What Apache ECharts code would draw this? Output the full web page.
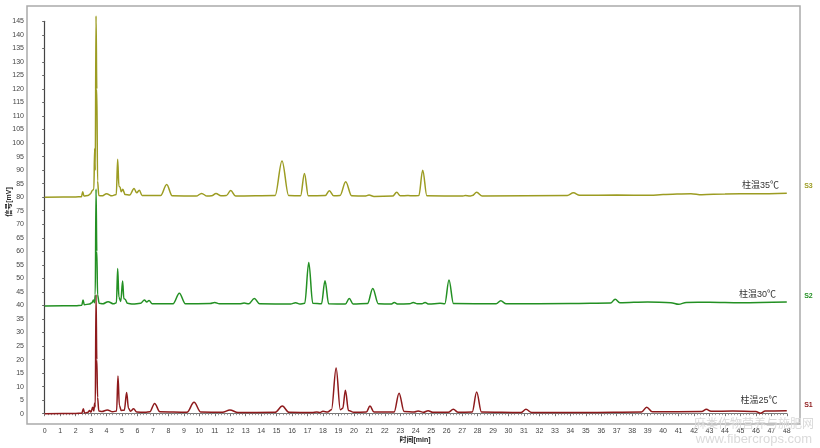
<!DOCTYPE html>
<html>
<head>
<meta charset="utf-8">
<script src="https://cdn.jsdelivr.net/npm/echarts@6/dist/echarts.min.js"></script>
<style>html,body{margin:0;padding:0;background:#fff}#c{width:820px;height:448px}</style>
</head>
<body>
<div id="c"></div>
<script>
// x tick labels (min) and y tick labels (mV)
const xTicks = [0, 48, 1];
const yTicks = [0, 145, 5];
const seriesNames = ['S1', 'S2', 'S3'];
const tempLabels = ['柱温25℃', '柱温30℃', '柱温35℃'];

// [time(min), signal(mV)]
const s1Points = [[0,0],[2.0,0.1],[2.4,0.2],[2.5,1.8],[2.58,0.3],[2.8,0.5],[2.9,1.2],[3.0,0.6],[3.1,2.4],[3.18,1.0],[3.23,4.0],[3.27,2.5],[3.32,44],[3.37,20],[3.42,6],[3.5,1.0],[3.7,0.8],[4.05,1.4],[4.4,0.7],[4.65,1.0],[4.74,13.9],[4.83,3.0],[4.95,1.2],[5.15,1.3],[5.3,7.8],[5.42,2.0],[5.55,0.9],[5.75,1.8],[5.95,0.6],[6.5,0.5],[6.8,0.7],[7.11,3.8],[7.45,0.7],[9.2,0.5],[9.66,4.2],[10.1,0.6],[11.5,0.5],[11.98,1.4],[12.5,0.4],[14.9,0.5],[15.37,2.8],[15.8,0.5],[17.3,0.4],[17.6,0.6],[17.8,0.4],[18.0,0.9],[18.3,0.6],[18.55,1.5],[18.85,16.9],[19.12,1.5],[19.28,2.0],[19.45,8.7],[19.65,1.2],[20.0,0.5],[20.8,0.6],[21.04,2.8],[21.3,0.6],[22.6,0.6],[22.92,7.6],[23.25,0.8],[23.9,0.6],[24.15,1.0],[24.5,0.5],[24.8,1.1],[25.1,0.5],[26.1,0.5],[26.43,1.6],[26.75,0.5],[27.65,0.6],[27.94,8.0],[28.25,0.6],[30.8,0.4],[31.13,1.6],[31.5,0.4],[35,0.4],[38.6,0.6],[38.94,2.4],[39.3,0.7],[42.5,0.8],[42.8,1.6],[43.1,0.9],[44.5,1.0],[46.0,0.8],[46.3,0.2],[46.6,1.0],[48,1.1]];

const s2Points = [[0,39.8],[2.0,39.9],[2.4,40.1],[2.48,42],[2.56,40.3],[2.9,40.5],[3.05,41.0],[3.15,42.0],[3.22,41],[3.27,44],[3.32,83],[3.37,60],[3.42,44],[3.52,40.8],[3.75,40.6],[4.1,41.4],[4.45,40.6],[4.64,41],[4.72,53.7],[4.8,43],[4.92,41.5],[5.04,49.0],[5.12,42.5],[5.2,42.3],[5.35,40.8],[5.7,40.5],[6.2,40.8],[6.45,42.0],[6.6,41.3],[6.75,41.8],[6.95,40.6],[8.3,40.6],[8.71,44.5],[9.1,40.6],[10.7,40.7],[11.0,41.1],[11.3,40.6],[12.6,40.6],[12.9,40.9],[13.2,40.6],[13.56,42.6],[13.9,40.6],[15.9,40.5],[16.23,41.0],[16.5,40.5],[16.82,40.8],[17.08,55.9],[17.34,40.8],[17.9,40.6],[18.13,49.1],[18.37,40.6],[19.45,40.5],[19.7,42.6],[19.95,40.5],[20.88,40.7],[21.22,46.3],[21.58,40.6],[22.4,40.5],[22.61,41.1],[22.85,40.5],[23.6,40.6],[23.84,41.1],[24.1,40.6],[24.4,40.6],[24.6,41.1],[24.85,40.5],[25.57,40.8],[25.88,40.6],[26.15,49.4],[26.44,40.7],[29.2,40.6],[29.5,41.7],[29.85,40.6],[34,40.7],[36.6,40.9],[36.9,42.3],[37.2,41.0],[39,41.3],[40.5,41.0],[41,40.4],[41.5,41.1],[43,41.2],[45,41.0],[48,41.3]];

const s3Points = [[0,80],[2.0,80.1],[2.38,80.2],[2.46,82],[2.54,80.4],[2.8,80.6],[2.95,81.2],[3.1,82.6],[3.18,83],[3.23,98],[3.27,90],[3.32,147],[3.37,120],[3.42,86],[3.5,80.6],[3.7,80.5],[4.0,81.3],[4.35,80.5],[4.63,81],[4.72,94],[4.8,84],[4.87,83.8],[4.95,82.0],[5.05,82.9],[5.2,81],[5.5,80.8],[5.78,83.2],[5.95,81.6],[6.12,82.6],[6.3,80.6],[7.5,80.6],[7.89,84.7],[8.25,80.5],[9.8,80.4],[10.15,81.4],[10.5,80.4],[10.8,80.5],[11.08,81.4],[11.4,80.5],[11.75,80.6],[12.03,82.5],[12.35,80.4],[14.9,80.6],[15.35,93.4],[15.78,80.6],[16.55,80.5],[16.8,88.8],[17.05,80.5],[18.15,80.6],[18.41,82.4],[18.7,80.5],[19.1,80.6],[19.47,85.7],[19.85,80.5],[20.7,80.4],[20.98,80.8],[21.3,80.3],[22.5,80.4],[22.77,81.8],[23.0,80.5],[23.5,80.6],[23.8,80.5],[24.2,80.6],[24.45,90],[24.72,80.5],[27.0,80.4],[27.2,80.6],[27.5,80.4],[27.65,80.6],[27.94,81.8],[28.3,80.4],[33.8,80.6],[34.2,81.6],[34.6,80.7],[37,80.8],[39.2,80.7],[40,81],[41.8,81.3],[42.5,80.9],[44,81.2],[46,81.3],[48,81.5]];

const colors = ['#8e1a1c', '#239023', '#9c9c22'];
const allPoints = [s1Points, s2Points, s3Points];
// anchor positions (data units) for the side annotations
const tempAnchor = [[46.2, 4.7], [46.1, 43.9], [46.3, 84.4]];
const nameAnchor = [[49.4, 3.2], [49.4, 43.3], [49.4, 84.2]];

const chart = echarts.init(document.getElementById('c'), null, {renderer: 'canvas'});
const font = '"Liberation Sans", "Noto Sans CJK SC", sans-serif';
const option = {
  animation: false,
  backgroundColor: '#fff',
  grid: {left: 44.7, right: 33.2, top: 21.3, bottom: 34.3, containLabel: false},
  xAxis: {
    type: 'value', min: xTicks[0], max: xTicks[1], interval: xTicks[2], offset: 10,
    axisLine: {show: true, lineStyle: {color: '#777', width: 1.2}},
    axisTick: {show: true, length: 2.5, lineStyle: {color: '#777'}},
    minorTick: {show: true, splitNumber: 5, length: 1.5, lineStyle: {color: '#999'}},
    splitLine: {show: false},
    axisLabel: {fontSize: 7, color: '#444', margin: 4, fontFamily: font}
  },
  yAxis: {
    type: 'value', min: yTicks[0], max: yTicks[1], interval: yTicks[2], offset: 17.7,
    axisLine: {show: true, lineStyle: {color: '#444', width: 1.2}},
    axisTick: {show: true, length: 2.5, lineStyle: {color: '#666'}},
    splitLine: {show: false},
    axisLabel: {fontSize: 7, color: '#444', margin: 3, fontFamily: font}
  },
  series: allPoints.map((pts, i) => ({
    type: 'line', name: seriesNames[i], data: pts, showSymbol: false, symbol: 'none',
    smooth: 0.35, smoothMonotone: 'x', clip: false, z: 2 + i,
    lineStyle: {color: colors[i], width: 1.5}
  }))
};
chart.setOption(option);

const g = [];
g.push({type: 'rect', shape: {x: 27, y: 6, width: 773, height: 418}, style: {fill: 'none', stroke: '#aaa', lineWidth: 1.5}, z: 0});
for (let i = 0; i < 3; i++) {
  const p = chart.convertToPixel({gridIndex: 0}, tempAnchor[i]);
  g.push({type: 'text', x: p[0], y: p[1], z: 10, style: {text: tempLabels[i], fontSize: 9, fill: '#333', align: 'center', verticalAlign: 'middle', fontFamily: font}});
  const q = chart.convertToPixel({gridIndex: 0}, nameAnchor[i]);
  g.push({type: 'text', x: q[0], y: q[1], z: 10, style: {text: seriesNames[i], fontSize: 7, fontWeight: 'bold', fill: colors[i], align: 'center', verticalAlign: 'middle', fontFamily: font}});
}
g.push({type: 'text', x: 9, y: 202, rotation: Math.PI / 2, z: 10, style: {text: '信号[mV]', fontSize: 7, fontWeight: 'bold', fill: '#222', align: 'center', verticalAlign: 'middle', fontFamily: font}});
g.push({type: 'text', x: 415, y: 440, z: 10, style: {text: '时间[min]', fontSize: 7, fontWeight: 'bold', fill: '#222', align: 'center', verticalAlign: 'middle', fontFamily: font}});
g.push({type: 'text', x: 754, y: 425, z: 20, style: {text: '麻类作物营养与施肥网', fontSize: 12, fill: '#dadada', align: 'center', verticalAlign: 'middle', fontFamily: font}});
g.push({type: 'text', x: 754, y: 439, z: 20, style: {text: 'www.fibercrops.com', fontSize: 13, fill: '#dadada', align: 'center', verticalAlign: 'middle', fontFamily: font}});
chart.setOption({graphic: g});
</script>
</body>
</html>
